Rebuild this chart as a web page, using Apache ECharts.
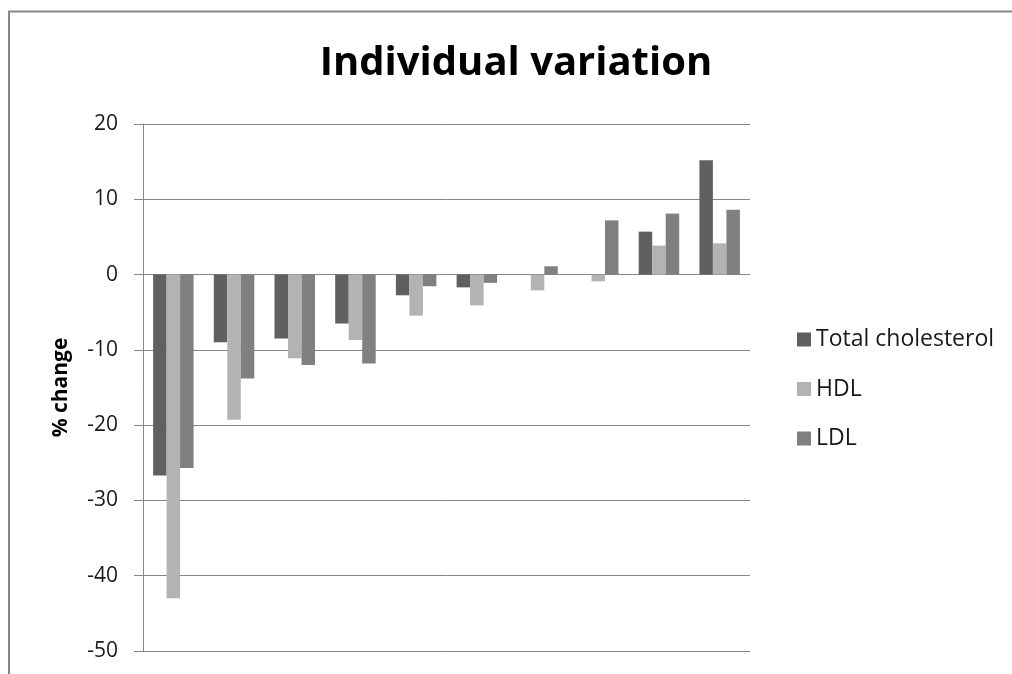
<!DOCTYPE html>
<html>
<head>
<meta charset="utf-8">
<script src="https://cdn.jsdelivr.net/npm/echarts@6/dist/echarts.min.js"></script>
<style>html,body{margin:0;padding:0;background:#fff;}#chart{width:1012px;height:674px;}</style>
</head>
<body>
<div id="chart"></div>
<script>
var categories = ['1','2','3','4','5','6','7','8','9','10'];
var totalCholesterol = [-26.7, -9.0, -8.5, -6.5, -2.75, -1.7, 0, 0, 5.7, 15.2];
var hdl = [-43.0, -19.3, -11.1, -8.7, -5.45, -4.1, -2.1, -0.9, 3.85, 4.15];
var ldl = [-25.7, -13.8, -12.0, -11.8, -1.55, -1.1, 1.1, 7.2, 8.1, 8.6];
var yTicks = [20, 10, 0, -10, -20, -30, -40, -50];

var font = 'Open Sans';
var chart = echarts.init(document.getElementById('chart'), null, {renderer: 'canvas'});
chart.setOption({
  backgroundColor: '#fff',
  animation: false,
  title: {
    text: 'Individual variation',
    left: 511, top: 39, textAlign: 'center',
    textStyle: {fontFamily: font, fontWeight: 'bold', fontSize: 40, color: '#000'}
  },
  legend: {
    orient: 'vertical',
    left: 792, top: 323,
    itemWidth: 14, itemHeight: 14, itemGap: 26.5,
    icon: 'rect',
    textStyle: {fontFamily: font, fontSize: 23, lineHeight: 22, color: '#1a1a1a', padding: [0,0,0,0]},
    data: ['Total cholesterol', 'HDL', 'LDL']
  },
  grid: {left: 143, right: 262, top: 124, bottom: 23, containLabel: false},
  xAxis: {
    type: 'category',
    data: categories,
    position: 'bottom',
    axisLine: {show: false},
    axisTick: {show: false},
    axisLabel: {show: false},
    splitLine: {show: false}
  },
  yAxis: {
    type: 'value',
    min: yTicks[yTicks.length-1], max: yTicks[0], interval: 10,
    name: '% change',
    nameLocation: 'middle',
    nameGap: 71,
    nameRotate: 90,
    nameTextStyle: {fontFamily: font, fontWeight: 'bold', fontSize: 21, color: '#000'},
    axisLine: {show: true, onZero: false, lineStyle: {color: '#868686', width: 1}},
    axisTick: {show: true, inside: false, length: 9, lineStyle: {color: '#868686'}},
    axisLabel: {fontFamily: font, fontSize: 21, color: '#1a1a1a', margin: 25},
    splitLine: {show: true, lineStyle: {color: '#868686', width: 1}}
  },
  series: [
    {name: 'Total cholesterol', type: 'bar', data: totalCholesterol, itemStyle: {color: '#606060'}, barWidth: 13.5, barGap: '0%'},
    {name: 'HDL', type: 'bar', data: hdl, itemStyle: {color: '#b3b3b3'}, barWidth: 13.5, barGap: '0%'},
    {name: 'LDL', type: 'bar', data: ldl, itemStyle: {color: '#808080'}, barWidth: 13.5, barGap: '0%'}
  ],
  graphic: [
    {type: 'polyline', shape: {points: [[9, 674], [9, 11.5], [1012, 11.5]]}, style: {stroke: '#868686', lineWidth: 2, fill: null}, silent: true}
  ]
});
</script>
</body>
</html>
